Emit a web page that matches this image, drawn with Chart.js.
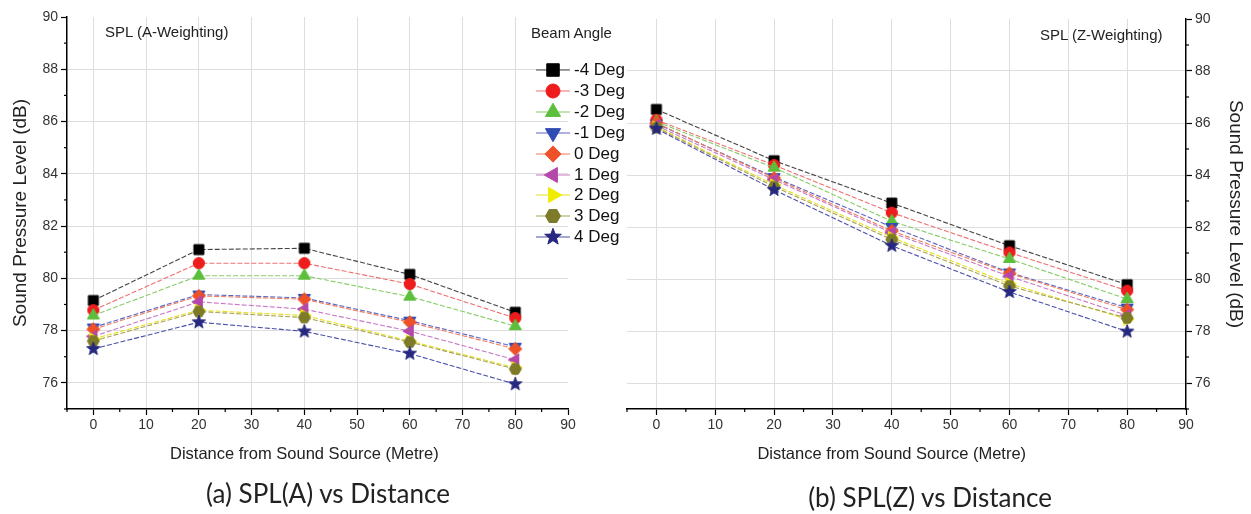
<!DOCTYPE html>
<html>
<head>
<meta charset="utf-8">
<script src="https://cdn.jsdelivr.net/npm/chart.js@4"></script>
<style>
  body { margin: 0; background: #fff; width: 1251px; height: 514px; overflow: hidden; position: relative;
         font-family: "Liberation Sans", Arial, sans-serif; }
  #boxA { position: absolute; left: 0; top: 0; width: 600px; height: 514px; }
  #boxZ { position: absolute; left: 600px; top: 0; width: 651px; height: 514px; }
  .cap { position: absolute; font-family: Lato, "Open Sans", sans-serif; font-size: 26px; color: #222;
         white-space: nowrap; transform: translate(-50%, -50%); }
  .note { position: absolute; font-size: 15px; color: #222; white-space: nowrap; transform: translateY(-50%); }
  .xtitle { position: absolute; top: 453px; font-size: 16.5px; color: #222; white-space: nowrap;
            transform: translate(-50%, -50%); }
  .leg { position: absolute; left: 535px; height: 20px; line-height: 20px; font-size: 17px; color: #111;
         white-space: nowrap; display: flex; align-items: center; }
  .leg canvas { margin-right: 3px; }
</style>
</head>
<body>
<div id="boxA"><canvas id="chartA" width="600" height="514"></canvas></div>
<div id="boxZ"><canvas id="chartZ" width="651" height="514"></canvas></div>
<div class="note" style="left:105px; top:31px;">SPL (A-Weighting)</div>
<div class="note" style="left:1040px; top:34px;">SPL (Z-Weighting)</div>
<div class="note" style="left:531px; top:32px;">Beam Angle</div>
<div class="xtitle" id="xtitleA">Distance from Sound Source (Metre)</div>
<div class="xtitle" id="xtitleZ">Distance from Sound Source (Metre)</div>
<div id="legend"></div>
<div class="cap" style="left:328px; top:493px;">(a) SPL(A) vs Distance</div>
<div class="cap" style="left:930px; top:497px;">(b) SPL(Z) vs Distance</div>

<script>
// Data.
const distances = [0, 20, 40, 60, 80]
const angleLabels = ['-4 Deg', '-3 Deg', '-2 Deg', '-1 Deg', '0 Deg', '1 Deg', '2 Deg', '3 Deg', '4 Deg']

// SPL (A-Weighting), dB
const splA_m4 = [79.15, 81.10, 81.15, 80.15, 78.70]
const splA_m3 = [78.78, 80.58, 80.58, 79.78, 78.48]
const splA_m2 = [78.58, 80.10, 80.10, 79.30, 78.17]
const splA_m1 = [78.12, 79.38, 79.25, 78.38, 77.38]
const splA_0  = [78.05, 79.33, 79.20, 78.32, 77.30]
const splA_p1 = [77.78, 79.10, 78.82, 77.98, 76.88]
const splA_p2 = [77.68, 78.78, 78.58, 77.60, 76.58]
const splA_p3 = [77.60, 78.73, 78.50, 77.56, 76.53]
const splA_p4 = [77.30, 78.32, 77.97, 77.12, 75.95]

// SPL (Z-Weighting), dB
const splZ_m4 = [86.52, 84.55, 82.92, 81.28, 79.78]
const splZ_m3 = [86.12, 84.38, 82.55, 81.02, 79.55]
const splZ_m2 = [86.05, 84.28, 82.22, 80.77, 79.23]
const splZ_m1 = [85.98, 83.92, 82.00, 80.25, 78.90]
const splZ_0  = [86.00, 83.88, 81.85, 80.22, 78.82]
const splZ_p1 = [85.90, 83.82, 81.78, 80.10, 78.60]
const splZ_p2 = [85.85, 83.62, 81.60, 79.82, 78.45]
const splZ_p3 = [85.82, 83.55, 81.52, 79.73, 78.50]
const splZ_p4 = [85.78, 83.43, 81.28, 79.50, 77.98]

const splA = [splA_m4, splA_m3, splA_m2, splA_m1, splA_0, splA_p1, splA_p2, splA_p3, splA_p4]
const splZ = [splZ_m4, splZ_m3, splZ_m2, splZ_m1, splZ_0, splZ_p1, splZ_p2, splZ_p3, splZ_p4]

const xTicks = { min: -5, max: 90, step: 5, major: 10 }
const yTicks = { min: 75, max: 90, step: 1, major: 2 }

// Look of each series.
const markerKinds = ['square', 'circle', 'up', 'down', 'diamond', 'left', 'right', 'hexagon', 'star']
const markerColors = ['#000000', '#ee1c1c', '#5cbf3c', '#2f4cb4', '#ee5028', '#b448aa', '#f0ec00', '#7d7a28', '#25287e']
const lineColors = ['#444444', '#f07070', '#86cc66', '#5a64c4', '#f07a5c', '#c878c4', '#e6e020', '#a8a456', '#4a50a8']

function drawMarker(c, kind, cx, cy, color, s) {
  c.fillStyle = color
  c.strokeStyle = color
  c.lineWidth = 1
  c.beginPath()
  const path = (pts) => {
    pts.forEach((p, k) => { if (k === 0) c.moveTo(cx + p[0] * s, cy + p[1] * s); else c.lineTo(cx + p[0] * s, cy + p[1] * s) })
    c.closePath()
  }
  const tri = (ang) => {
    const pts = []
    for (let k = 0; k < 3; k++) {
      const a = ang + k * 2 * Math.PI / 3
      pts.push([7 * Math.cos(a), 7 * Math.sin(a)])
    }
    path(pts)
  }
  if (kind === 'square') c.rect(cx - 5 * s, cy - 5 * s, 10 * s, 10 * s)
  else if (kind === 'circle') c.arc(cx, cy, 5.6 * s, 0, Math.PI * 2)
  else if (kind === 'up') tri(-Math.PI / 2)
  else if (kind === 'down') tri(Math.PI / 2)
  else if (kind === 'left') tri(Math.PI)
  else if (kind === 'right') tri(0)
  else if (kind === 'diamond') path([[0, -6.5], [6.5, 0], [0, 6.5], [-6.5, 0]])
  else if (kind === 'hexagon') {
    const pts = []
    for (let k = 0; k < 6; k++) pts.push([6 * Math.cos(k * Math.PI / 3), 6 * Math.sin(k * Math.PI / 3)])
    path(pts)
  } else if (kind === 'star') {
    const pts = []
    for (let k = 0; k < 10; k++) {
      const a = -Math.PI / 2 + k * Math.PI / 5
      const r = k % 2 === 0 ? 7 : 2.9
      pts.push([r * Math.cos(a), r * Math.sin(a)])
    }
    path(pts)
  }
  c.fill()
  c.stroke()
}

function makeIcon(i) {
  const cv = document.createElement('canvas')
  cv.width = 18
  cv.height = 18
  drawMarker(cv.getContext('2d'), markerKinds[i], 9, 9, markerColors[i], 1)
  return cv
}
const icons = markerKinds.map((k, i) => makeIcon(i))

// Legend between the two panels.
const legend = document.getElementById('legend')
angleLabels.forEach((label, i) => {
  const row = document.createElement('div')
  row.className = 'leg'
  row.style.top = (70 + i * 20.9 - 10) + 'px'
  const cv = document.createElement('canvas')
  cv.width = 36
  cv.height = 20
  const c = cv.getContext('2d')
  c.strokeStyle = lineColors[i]
  c.lineWidth = 1.2
  c.beginPath(); c.moveTo(1, 10); c.lineTo(35, 10); c.stroke()
  drawMarker(c, markerKinds[i], 18, 10, markerColors[i], 1.25)
  const span = document.createElement('span')
  span.textContent = label
  row.appendChild(cv)
  row.appendChild(span)
  legend.appendChild(row)
})

function buildDatasets(series) {
  return series.map((vals, i) => ({
    label: angleLabels[i],
    data: distances.map((d, j) => ({ x: d, y: vals[j] })),
    borderColor: lineColors[i],
    borderWidth: 1.1,
    borderDash: [5, 2],
    pointStyle: icons[i],
    pointRadius: 6,
    pointHoverRadius: 6,
    order: 9 - i,
    tension: 0
  }))
}

const clear = 'rgba(0,0,0,0)'
const gridGray = '#dedede'
const tickFont = { family: '"Liberation Sans", Arial, sans-serif', size: 14 }
const yTitleFont = { family: '"Liberation Sans", Arial, sans-serif', size: 19 }

// Short minor ticks, drawn on the library's own scales.
const minorTicks = {
  id: 'minorTicks',
  afterDraw(chart) {
    const c = chart.ctx
    c.save()
    c.strokeStyle = '#000'
    c.lineWidth = 1.2
    const xs = chart.scales.x
    xs.ticks.forEach(t => {
      if (t.value % xTicks.major !== 0) {
        const px = xs.getPixelForValue(t.value)
        c.beginPath(); c.moveTo(px, xs.top); c.lineTo(px, xs.top + 3); c.stroke()
      }
    })
    const ys = chart.scales.y
    ys.ticks.forEach(t => {
      if (t.value % yTicks.major !== 0) {
        const py = ys.getPixelForValue(t.value)
        const edge = ys.position === 'left' ? ys.right : ys.left
        const dir = ys.position === 'left' ? -1 : 1
        c.beginPath(); c.moveTo(edge, py); c.lineTo(edge + dir * 3, py); c.stroke()
      }
    })
    c.restore()
  }
}

function xScale() {
  return {
    type: 'linear',
    min: xTicks.min, max: xTicks.max,
    ticks: {
      stepSize: xTicks.step, autoSkip: false, maxRotation: 0, padding: 2, color: '#333', font: tickFont,
      callback: v => (v >= 0 && v % xTicks.major === 0) ? v : ''
    },
    grid: {
      color: ctx => (ctx.tick && ctx.tick.value >= 0 && ctx.tick.value < 90 && ctx.tick.value % xTicks.major === 0) ? gridGray : clear,
      tickColor: ctx => (ctx.tick && ctx.tick.value % xTicks.major === 0) ? '#000' : clear,
      tickLength: 6, tickWidth: 1.2, lineWidth: 1
    },
    border: { display: true, color: '#000', width: 1.5 },
    afterFit: s => { s.height = 58 }
  }
}

function yScale(pos, width) {
  return {
    type: 'linear',
    position: pos,
    min: yTicks.min, max: yTicks.max,
    ticks: {
      stepSize: yTicks.step, autoSkip: false, padding: 3, color: '#333', font: tickFont,
      callback: v => v % yTicks.major === 0 ? v : ''
    },
    grid: {
      color: ctx => (ctx.tick && ctx.tick.value % yTicks.major === 0 && ctx.tick.value > 75 && ctx.tick.value < 90) ? gridGray : clear,
      tickColor: ctx => (ctx.tick && ctx.tick.value % yTicks.major === 0) ? '#000' : clear,
      tickLength: 6, tickWidth: 1.2, lineWidth: 1
    },
    border: { display: true, color: '#000', width: 1.5 },
    title: { display: true, text: 'Sound Pressure Level (dB)', color: '#222', font: yTitleFont },
    afterFit: s => { s.width = width }
  }
}

function baseOptions(padding, yPos, yWidth) {
  return {
    responsive: false,
    animation: false,
    layout: { padding: padding },
    plugins: { legend: { display: false }, tooltip: { enabled: false } },
    scales: { x: xScale(), y: yScale(yPos, yWidth) }
  }
}

const chartA = new Chart(document.getElementById('chartA'), {
  type: 'line',
  data: { datasets: buildDatasets(splA) },
  options: baseOptions({ left: 5, right: 32, top: 17, bottom: 47 }, 'left', 62),
  plugins: [minorTicks]
})

const chartZ = new Chart(document.getElementById('chartZ'), {
  type: 'line',
  data: { datasets: buildDatasets(splZ) },
  options: baseOptions({ left: 27, right: 0, top: 19, bottom: 47 }, 'right', 65),
  plugins: [minorTicks]
})

// x titles sit under the middle of the measured distances.
const midDistance = (distances[0] + distances[distances.length - 1]) / 2
document.getElementById('xtitleA').style.left = chartA.scales.x.getPixelForValue(midDistance) + 'px'
document.getElementById('xtitleZ').style.left = (600 + chartZ.scales.x.getPixelForValue(midDistance)) + 'px'
</script>
</body>
</html>
